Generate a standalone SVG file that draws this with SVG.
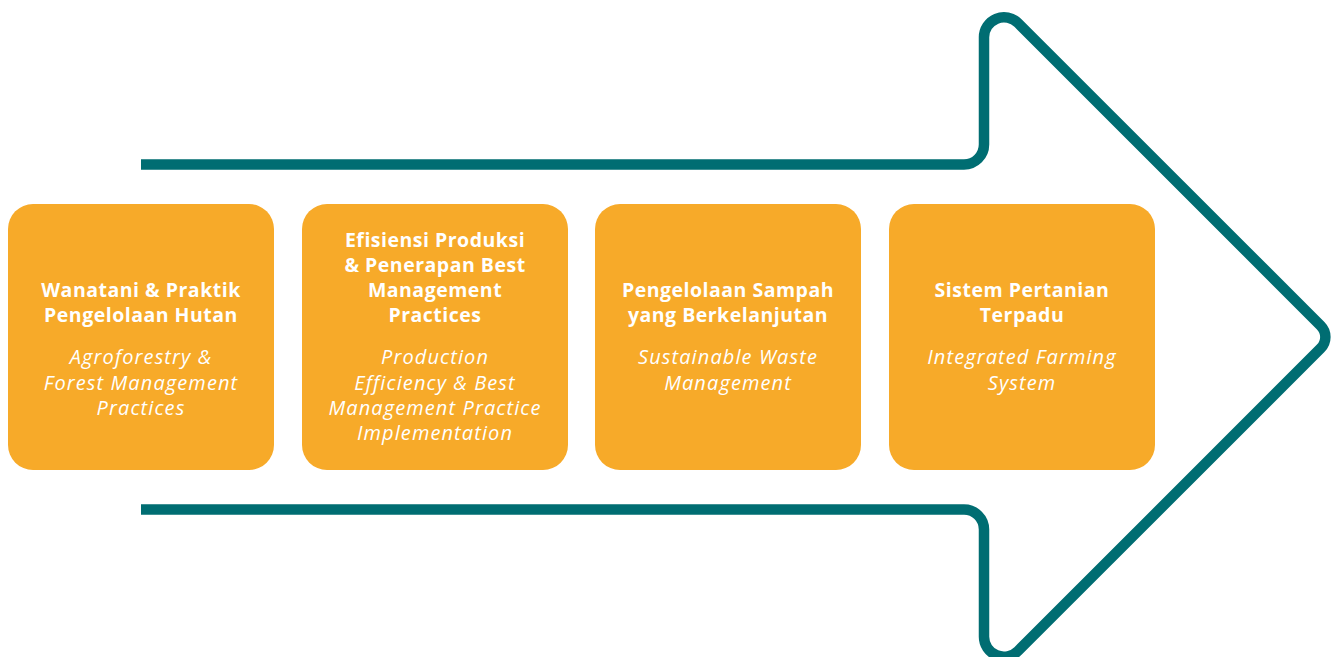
<svg xmlns="http://www.w3.org/2000/svg" width="1334" height="657" viewBox="0 0 1334 657">
<style>
.box{fill:#F7AA29}
.t{font-family:"Open Sans","Liberation Sans",sans-serif;fill:#fff;text-anchor:middle}
.b{font-weight:700;font-size:19.5px;letter-spacing:0.5px}
.i{font-style:italic;font-weight:500;font-size:20px;letter-spacing:1.1px}
.arrow{fill:none;stroke:#006D72;stroke-width:10.5;stroke-linejoin:round}
</style>
<rect width="1334" height="657" fill="#fff"/>
<g id="connectors">
<path class="arrow" d="M141,164.5 H964 A20,20 0 0 0 984,144.5 V37.3 A20,20 0 0 1 1018.1,23.1 L1320.7,325.7 A16,16 0 0 1 1320.7,348.3 L1018.1,650.9 A20,20 0 0 1 984,636.7 V529.5 A20,20 0 0 0 964,509.5 H141"/>
</g>
<g id="node1">
<rect class="box" x="8" y="204" width="266" height="266" rx="25"/>
<text class="t b" x="141" y="297">Wanatani &amp; Praktik</text>
<text class="t b" x="141" y="322">Pengelolaan Hutan</text>
<text class="t i" x="141" y="364">Agroforestry &amp;</text>
<text class="t i" x="141" y="390">Forest Management</text>
<text class="t i" x="141" y="415">Practices</text>
</g>
<g id="node2">
<rect class="box" x="302" y="204" width="266" height="266" rx="25"/>
<text class="t b" x="435" y="247">Efisiensi Produksi</text>
<text class="t b" x="435" y="272">&amp; Penerapan Best</text>
<text class="t b" x="435" y="297">Management</text>
<text class="t b" x="435" y="322">Practices</text>
<text class="t i" x="435" y="364">Production</text>
<text class="t i" x="435" y="390">Efficiency &amp; Best</text>
<text class="t i" x="435" y="415">Management Practice</text>
<text class="t i" x="435" y="440">Implementation</text>
</g>
<g id="node3">
<rect class="box" x="595" y="204" width="266" height="266" rx="25"/>
<text class="t b" x="728" y="297">Pengelolaan Sampah</text>
<text class="t b" x="728" y="322">yang Berkelanjutan</text>
<text class="t i" x="728" y="364">Sustainable Waste</text>
<text class="t i" x="728" y="390">Management</text>
</g>
<g id="node4">
<rect class="box" x="889" y="204" width="266" height="266" rx="25"/>
<text class="t b" x="1022" y="297">Sistem Pertanian</text>
<text class="t b" x="1022" y="322">Terpadu</text>
<text class="t i" x="1022" y="364">Integrated Farming</text>
<text class="t i" x="1022" y="390">System</text>
</g>
</svg>
